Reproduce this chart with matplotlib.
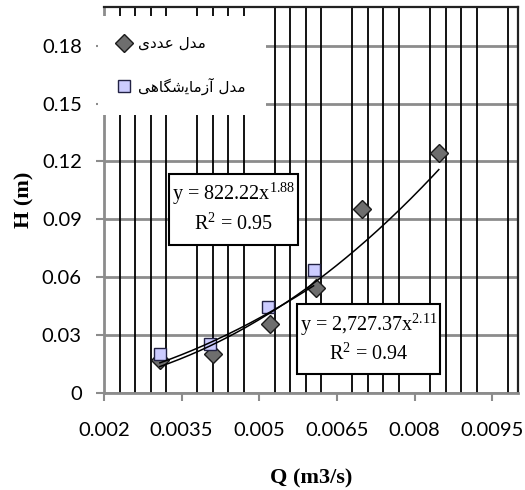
import numpy as np
import matplotlib
matplotlib.use("Agg")
import matplotlib.pyplot as plt
from matplotlib.ticker import MultipleLocator, FixedLocator
from matplotlib.patches import Rectangle

plt.rcParams['mathtext.fontset'] = 'custom'
plt.rcParams['mathtext.rm'] = 'Liberation Serif'
plt.rcParams['mathtext.it'] = 'Liberation Serif:italic'

# ---- data ----
q_num = [0.00308, 0.00410, 0.00520, 0.00610, 0.00698, 0.00847]
h_num = [0.0172, 0.0202, 0.0355, 0.0542, 0.0955, 0.1243]
q_exp = [0.00308, 0.00405, 0.00517, 0.00605]
h_exp = [0.0201, 0.0254, 0.0446, 0.0636]

# power trendlines y = a x^b
fit_num = (2727.37, 2.11)
fit_exp = (822.22, 1.88)

# Persian labels (presentation forms, visual order)
label_num = "\uFBFC\uFEA9\uFEAA\uFECB \uFEDD\uFEAA\uFEE3"          # مدل عددی
label_exp = "\uFEF0\uFEEB\uFE8E\uFB95\uFEB7\uFEF3\uFE8E\uFEE3\uFEAF\uFE81 \uFEDD\uFEAA\uFEE3"  # مدل آزمایشگاهی

eq_exp = ["y = 822.22x$^{1.88}$", "R$^{2}$ = 0.95"]
eq_num = ["y = 2,727.37x$^{2.11}$", "R$^{2}$ = 0.94"]

xticks = [0.002, 0.0035, 0.005, 0.0065, 0.008, 0.0095]
xticklabels = ["0.002", "0.0035", "0.005", "0.0065", "0.008", "0.0095"]
yticks = [0, 0.03, 0.06, 0.09, 0.12, 0.15, 0.18]
yticklabels = ["0", "0.03", "0.06", "0.09", "0.12", "0.15", "0.18"]

W, H = 525, 490
AX_L, AX_R, AX_T, AX_B = 104, 518, 7, 393
fig = plt.figure(figsize=(W / 100, H / 100), dpi=100)
ax = fig.add_axes([AX_L / W, 1 - AX_B / H, (AX_R - AX_L) / W, (AX_B - AX_T) / H])


def axf(px, py):
    """pixel position in figure -> axes fraction"""
    return (px - AX_L) / (AX_R - AX_L), (AX_B - py) / (AX_B - AX_T)


ax.set_xlim(0.002, 0.010)
ax.set_ylim(0, 0.2)

ax.set_axisbelow(True)
ax.xaxis.set_minor_locator(MultipleLocator(0.0003, offset=0.002))
ax.grid(True, which='minor', axis='x', color='black', lw=1.3)
ax.grid(True, which='major', axis='y', color='#8c8c8c', lw=2.0)
ax.yaxis.set_zorder(0.3)
ax.xaxis.set_zorder(0.5)
ax.tick_params(axis='x', which='minor', length=0)

ax.xaxis.set_major_locator(FixedLocator(xticks))
ax.set_xticklabels(xticklabels)
ax.yaxis.set_major_locator(FixedLocator(yticks))
ax.set_yticklabels(yticklabels)
ax.tick_params(axis='both', which='major', length=6, width=1.5, color='#8c8c8c',
               labelsize=14.5, direction='out')
ax.tick_params(axis='x', pad=15)
ax.tick_params(axis='y', pad=10)
for lab in ax.get_xticklabels() + ax.get_yticklabels():
    lab.set_family('Lato')

for s in ['left', 'bottom']:
    ax.spines[s].set_color('#8c8c8c')
    ax.spines[s].set_linewidth(2)
for s in ['top', 'right']:
    ax.spines[s].set_color('#222222')
    ax.spines[s].set_linewidth(1.6)

ax.plot(q_num, h_num, ls='none', marker='D', ms=9.5, mfc='#6e6e6e', mec='#1a1a1a',
        mew=1.0, label=label_num, zorder=3)
ax.plot(q_exp, h_exp, ls='none', marker='s', ms=9.0, mfc='#ccccff', mec='#222244',
        mew=1.0, label=label_exp, zorder=3)

xn = np.linspace(min(q_num), max(q_num), 200)
ax.plot(xn, fit_num[0] * xn ** fit_num[1], color='black', lw=1.1, zorder=4)
xe = np.linspace(min(q_exp), max(q_exp), 200)
ax.plot(xe, fit_exp[0] * xe ** fit_exp[1], color='black', lw=1.1, zorder=4)

leg = ax.legend(loc='upper left', bbox_to_anchor=axf(98, 16), frameon=True,
                fancybox=False, edgecolor='none', facecolor='white', framealpha=1,
                prop={'family': 'DejaVu Sans', 'size': 11}, labelspacing=1.75,
                handlelength=0.8, handletextpad=0.55, borderpad=1.3, borderaxespad=0)

ax.set_xlabel("Q (m3/s)", family='Liberation Serif', weight='bold', fontsize=16, labelpad=21)
ax.set_ylabel("H (m)", family='Liberation Serif', weight='bold', fontsize=16, labelpad=5)


def eq_box(x0, y0, x1, y1, lines, ys):
    (ax0, ay1) = axf(x0, y1)
    (ax1, ay0) = axf(x1, y0)
    ax.add_patch(Rectangle((ax0, ay1), ax1 - ax0, ay0 - ay1, transform=ax.transAxes,
                           fc='white', ec='black', lw=1.5, zorder=5))
    cx = (ax0 + ax1) / 2
    for txt, yy in zip(lines, ys):
        ax.text(cx, axf(0, yy)[1], txt, transform=ax.transAxes, ha='center',
                va='center', family='Liberation Serif', fontsize=14.5, zorder=6)


eq_box(169, 174, 298, 245, eq_exp, [194, 224])
eq_box(297, 304, 440, 374, eq_num, [325, 354])

fig.savefig("out.png", dpi=100)
